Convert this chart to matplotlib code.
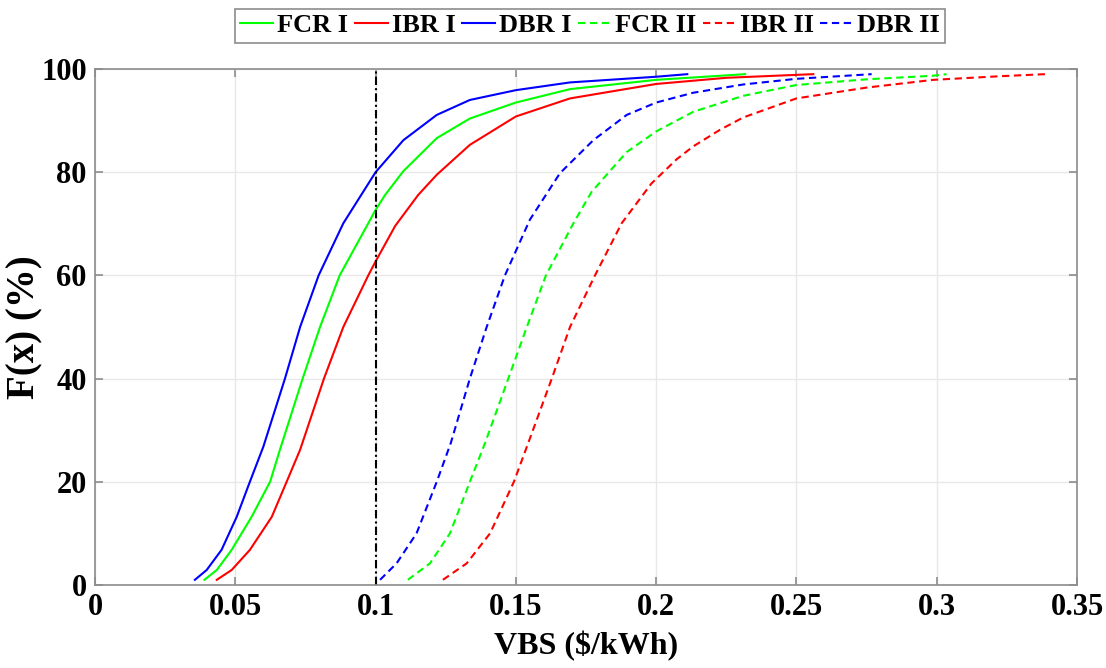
import numpy as np
import matplotlib
matplotlib.use('Agg')
import matplotlib.pyplot as plt

# CDF of VBS for each scheme (x in $/kWh, F(x) in %)
fcr1_x = [0.0390, 0.0434, 0.0487, 0.0558, 0.0624, 0.0659, 0.0740, 0.0802, 0.0872, 0.0974,
          0.1000, 0.1034, 0.1099, 0.1218, 0.1336, 0.1500, 0.1693, 0.2000, 0.2317]
fcr1_y = [1, 2.9, 6.8, 13.2, 20, 26.2, 40, 50, 60, 70.1,
          72.7, 75.6, 80.2, 86.6, 90.4, 93.5, 96.1, 97.9, 99.0]

ibr1_x = [0.0434, 0.0487, 0.0552, 0.0630, 0.0683, 0.0731, 0.0816, 0.0885, 0.0974, 0.1000,
          0.1070, 0.1152, 0.1218, 0.1336, 0.1500, 0.1693, 0.2000, 0.2251, 0.2560]
ibr1_y = [1, 2.9, 6.8, 13.2, 20, 26.2, 40, 50, 60, 62.7,
          69.6, 75.6, 79.5, 85.3, 90.8, 94.3, 97.1, 98.3, 99.0]

dbr1_x = [0.0356, 0.0398, 0.0451, 0.0505, 0.0552, 0.0600, 0.0677, 0.0731, 0.0797, 0.0885,
          0.1000, 0.1099, 0.1218, 0.1336, 0.1500, 0.1693, 0.2000, 0.2111]
dbr1_y = [1, 2.9, 6.8, 13.2, 20, 26.8, 40, 50, 60, 70.1,
          80, 86.2, 91.1, 94.0, 95.9, 97.4, 98.5, 99.0]

fcr2_x = [0.1115, 0.1194, 0.1265, 0.1336, 0.1390, 0.1473, 0.1539, 0.1607, 0.1705, 0.1770,
          0.1895, 0.2000, 0.2132, 0.2310, 0.2500, 0.2750, 0.2988, 0.3035]
fcr2_y = [1, 4.2, 10, 20, 27.5, 40, 50, 60, 70.1, 76.2,
          83.9, 87.9, 91.7, 94.8, 96.9, 98.0, 98.7, 99.0]

ibr2_x = [0.1240, 0.1325, 0.1408, 0.1493, 0.1544, 0.1628, 0.1693, 0.1782, 0.1877, 0.1983,
          0.2073, 0.2132, 0.2227, 0.2310, 0.2500, 0.2750, 0.2988, 0.3225, 0.3386]
ibr2_y = [1, 4.2, 10, 20, 27.5, 40, 50, 60, 70.1, 77.8,
          82.5, 85.0, 88.2, 90.6, 94.3, 96.4, 97.9, 98.6, 99.0]

dbr2_x = [0.1016, 0.1075, 0.1146, 0.1218, 0.1268, 0.1336, 0.1396, 0.1461, 0.1550, 0.1657,
          0.1776, 0.1895, 0.2000, 0.2132, 0.2310, 0.2500, 0.2768]
dbr2_y = [1, 4.2, 10, 20, 27.5, 40, 50, 60, 70.8, 79.8,
          86.2, 91.1, 93.5, 95.4, 97.0, 98.1, 99.0]

x_ref = 0.1
xticks = [0, 0.05, 0.1, 0.15, 0.2, 0.25, 0.3, 0.35]
xtick_labels = ['0', '0.05', '0.1', '0.15', '0.2', '0.25', '0.3', '0.35']
yticks = [0, 20, 40, 60, 80, 100]

plt.rcParams['font.family'] = 'Liberation Serif'
plt.rcParams['font.weight'] = 'bold'

fig = plt.figure(figsize=(11.06, 6.68), dpi=100)
ax = fig.add_axes([0.0859, 0.1243, 0.8879, 0.7724])

lw = 1.5
dash = (3.5, 2.2)
ax.plot(fcr1_x, fcr1_y, color=(0, 1, 0), lw=lw, label='FCR I')
ax.plot(ibr1_x, ibr1_y, color=(1, 0, 0), lw=lw, label='IBR I')
ax.plot(dbr1_x, dbr1_y, color=(0, 0, 1), lw=lw, label='DBR I')
ax.plot(fcr2_x, fcr2_y, color=(0, 1, 0), lw=lw, dashes=dash, label='FCR II')
ax.plot(ibr2_x, ibr2_y, color=(1, 0, 0), lw=lw, dashes=dash, label='IBR II')
ax.plot(dbr2_x, dbr2_y, color=(0, 0, 1), lw=lw, dashes=dash, label='DBR II')
ax.plot([x_ref, x_ref], [0, 100], color='black', lw=1.5, dashes=(4, 1.5, 1, 1.5))

ax.set_xlim(0, 0.35)
ax.set_ylim(0, 100)
ax.set_xticks(xticks)
ax.set_xticklabels(xtick_labels)
ax.set_yticks(yticks)
ax.grid(True, color='#e8e8e8', lw=1)
ax.set_axisbelow(True)
for s in ax.spines.values():
    s.set_color('#8c8c8c')
    s.set_linewidth(1.2)
ax.tick_params(direction='in', length=6, width=1.2, color='#8c8c8c',
               top=True, right=True, labelsize=22, pad=6)
ax.set_xlabel('VBS ($/kWh)', fontsize=23, fontweight='bold', labelpad=6)
ax.set_ylabel('F(x) (%)', fontsize=28, fontweight='bold', labelpad=-2)

leg = fig.legend(loc='center', bbox_to_anchor=(0.5335, 0.9618), ncol=6,
                 fontsize=19, handlelength=1.25, handletextpad=0.15,
                 columnspacing=0.25, borderpad=0.2, borderaxespad=0,
                 fancybox=False, framealpha=1)
leg.get_frame().set_edgecolor('#8c8c8c')
leg.get_frame().set_linewidth(1.2)

plt.savefig('out.png', dpi=100)
